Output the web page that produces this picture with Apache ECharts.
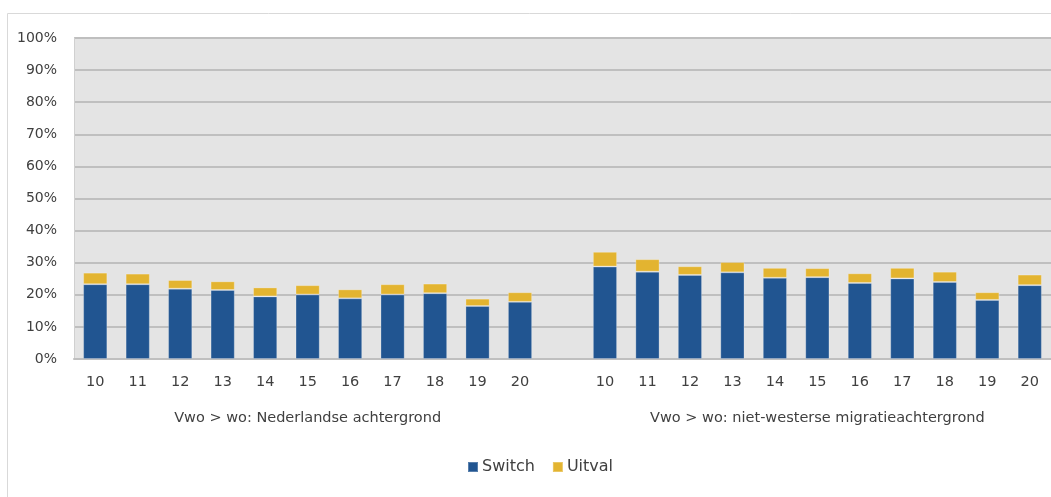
<!DOCTYPE html>
<html>
<head>
<meta charset="utf-8">
<script src="https://cdn.jsdelivr.net/npm/echarts@6/dist/echarts.min.js"></script>
<style>
html,body{margin:0;padding:0;background:#fff;}
#chart{width:1051px;height:497px;}
</style>
</head>
<body>
<div id="chart"></div>
<script>
const years = ['10','11','12','13','14','15','16','17','18','19','20'];
const groupLabels = ['Vwo > wo: Nederlandse achtergrond', 'Vwo > wo: niet-westerse migratieachtergrond'];
const switchNL = [23.3, 23.3, 21.9, 21.5, 19.5, 20.1, 18.9, 20.1, 20.5, 16.5, 17.8];
const uitvalNL = [3.6, 3.3, 2.7, 2.7, 2.8, 2.9, 2.8, 3.2, 3.0, 2.3, 3.0];
const switchNW = [28.8, 27.2, 26.2, 27.0, 25.3, 25.5, 23.7, 25.1, 24.0, 18.4, 23.0];
const uitvalNW = [4.6, 3.9, 2.7, 3.2, 3.1, 2.8, 3.0, 3.3, 3.2, 2.4, 3.3];
const yTicks = [0, 10, 20, 30, 40, 50, 60, 70, 80, 90, 100];

const cats = years.concat([''], years);
const switchData = switchNL.concat(['-'], switchNW);
const uitvalData = uitvalNL.concat(['-'], uitvalNW);
const groupCats = cats.map((c, i) => i === 5 ? groupLabels[0] : (i === 17 ? groupLabels[1] : ''));

const font = 'DejaVu Sans';
const txt = '#404040';
const chart = echarts.init(document.getElementById('chart'));
chart.setOption({
  animation: false,
  graphic: [{
    type: 'rect', shape: {x: 7.5, y: 13.5, width: 1100, height: 600},
    style: {fill: 'none', stroke: '#D9D9D9', lineWidth: 1}, z: -10
  }],
  grid: {left: 74, top: 38, width: 978, bottom: 138, show: true, backgroundColor: '#E4E4E4', borderWidth: 0},
  legend: {
    top: 459, left: 467, padding: 0, itemWidth: 10, itemHeight: 10, itemGap: 17,
    icon: 'rect',
    textStyle: {fontFamily: font, fontSize: 16, color: txt, padding: [0, 0, 0, -1]},
    data: ['Switch', 'Uitval']
  },
  xAxis: [{
    type: 'category', data: cats,
    axisLine: {lineStyle: {color: '#BFBFBF', width: 2}},
    axisTick: {show: false},
    axisLabel: {fontFamily: font, fontSize: 14.5, color: txt, margin: 16, interval: 0}
  }, {
    type: 'category', data: groupCats, position: 'bottom', offset: 38,
    axisLine: {show: false}, axisTick: {show: false},
    axisLabel: {fontFamily: font, fontSize: 14.5, color: txt, interval: 0, margin: 14}
  }],
  yAxis: {
    type: 'value', min: 0, max: 100, interval: 10,
    axisLine: {show: true, lineStyle: {color: '#D0D0D0'}},
    axisTick: {show: false},
    splitLine: {lineStyle: {color: '#BFBFBF', width: 2}},
    axisLabel: {fontFamily: font, fontSize: 14, color: txt, margin: 17,
      formatter: v => yTicks.includes(v) ? v + '%' : ''}
  },
  series: [{
    name: 'Switch', type: 'bar', stack: 't', barWidth: '57%', data: switchData,
    itemStyle: {color: '#215591', borderColor: 'rgba(255,255,255,0.25)', borderWidth: 1}
  }, {
    name: 'Uitval', type: 'bar', stack: 't', data: uitvalData,
    itemStyle: {color: '#E3B430', borderColor: 'rgba(255,255,255,0.25)', borderWidth: 1}
  }]
});
</script>
</body>
</html>
